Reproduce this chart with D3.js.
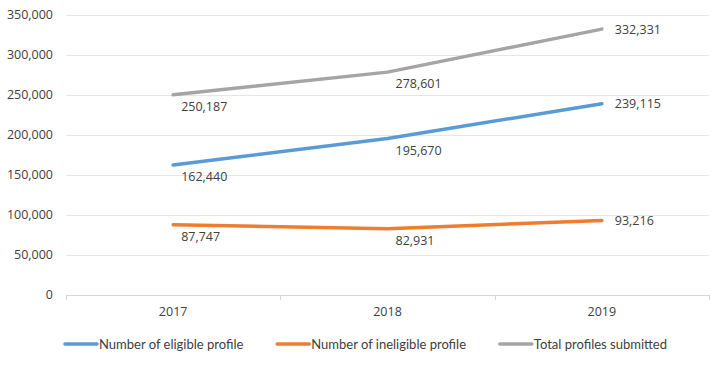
<!DOCTYPE html>
<html>
<head>
<meta charset="utf-8">
<script src="https://cdn.jsdelivr.net/npm/d3@7"></script>
<style>
  body { margin: 0; background: #fff; }
  svg text { font-family: "Open Sans", "Noto Sans", sans-serif; fill: #404040; }
  svg .legend text { font-family: Lato, "Open Sans", sans-serif; }
</style>
</head>
<body>
<div id="chart"></div>
<script>
// data
const years = ["2017", "2018", "2019"];
const eligible = [162440, 195670, 239115];
const ineligible = [87747, 82931, 93216];
const totalSubmitted = [250187, 278601, 332331];
const seriesNames = ["Number of eligible profile", "Number of ineligible profile", "Total profiles submitted"];
const yTicks = [0, 50000, 100000, 150000, 200000, 250000, 300000, 350000];
const colors = ["#5b9bd5", "#ed7d31", "#a5a5a5"];

const width = 720, height = 367;
const margin = { left: 66, right: 11, top: 15, bottom: 72 };

const svg = d3.select("#chart").append("svg")
    .attr("width", width)
    .attr("height", height);

const x = d3.scaleBand()
    .domain(years)
    .range([margin.left, width - margin.right]);

const y = d3.scaleLinear()
    .domain([0, 350000])
    .range([height - margin.bottom, margin.top]);

// grid lines
svg.append("g")
    .selectAll("line")
    .data(yTicks)
    .enter().append("line")
    .attr("x1", margin.left)
    .attr("x2", width - margin.right)
    .attr("y1", d => Math.round(y(d)) + 0.5)
    .attr("y2", d => Math.round(y(d)) + 0.5)
    .attr("stroke", d => d === 0 ? "#d4d8e0" : "#e3e6ec")
    .attr("stroke-width", 1);

// y labels
const fmt = d3.format(",");
svg.append("g")
    .selectAll("text")
    .data(yTicks)
    .enter().append("text")
    .attr("x", margin.left - 13)
    .attr("y", d => y(d))
    .attr("dy", "0.35em")
    .attr("text-anchor", "end")
    .style("font-size", "12.5px")
    .text(d => fmt(d));

// x axis ticks at band edges
const edges = years.map(d => x(d)).concat([x(years[years.length - 1]) + x.bandwidth()]);
svg.append("g")
    .selectAll("line")
    .data(edges)
    .enter().append("line")
    .attr("x1", d => Math.round(d) + 0.5)
    .attr("x2", d => Math.round(d) + 0.5)
    .attr("y1", y(0))
    .attr("y2", y(0) + 5)
    .attr("stroke", "#d4d8e0");

svg.append("g")
    .selectAll("text")
    .data(years)
    .enter().append("text")
    .attr("x", d => x(d) + x.bandwidth() / 2)
    .attr("y", y(0) + 21)
    .attr("text-anchor", "middle")
    .style("font-size", "12.5px")
    .text(d => d);

// lines
const allSeries = [eligible, ineligible, totalSubmitted];
const line = d3.line()
    .x((d, i) => x(years[i]) + x.bandwidth() / 2)
    .y(d => y(d));

svg.append("g")
    .selectAll("path")
    .data(allSeries)
    .enter().append("path")
    .attr("fill", "none")
    .attr("stroke", (d, i) => colors[i])
    .attr("stroke-width", 3.5)
    .attr("stroke-linecap", "round")
    .attr("stroke-linejoin", "round")
    .attr("d", d => line(d));

// data labels
allSeries.forEach(function(series) {
    svg.append("g")
        .selectAll("text")
        .data(series)
        .enter().append("text")
        .attr("x", (d, i) => x(years[i]) + x.bandwidth() / 2 + (i === 2 ? 13 : 8))
        .attr("y", (d, i) => y(d) + (i === 2 ? 0 : 12))
        .attr("dy", "0.35em")
        .attr("text-anchor", "start")
        .style("font-size", "12.5px")
        .text(d => fmt(d));
});

// legend
const legend = svg.append("g").attr("class", "legend");
const legendY = 344;
const items = legend.selectAll("g")
    .data(seriesNames)
    .enter().append("g");
items.append("line")
    .attr("x1", 1).attr("x2", 33)
    .attr("y1", 0).attr("y2", 0)
    .attr("stroke", (d, i) => colors[i])
    .attr("stroke-width", 3.5)
    .attr("stroke-linecap", "round");
items.append("text")
    .attr("x", 35)
    .attr("y", 0)
    .attr("dy", "0.35em")
    .style("font-size", "13px")
    .text(d => d);

// lay out legend items to span the legend area evenly
const widths = [];
items.each(function() { widths.push(this.getBBox().width); });
const legendStart = 64, legendEnd = 666;
const gap = (legendEnd - legendStart - d3.sum(widths)) / (widths.length - 1);
let cx = legendStart;
items.attr("transform", function(d, i) {
    const t = `translate(${cx},${legendY})`;
    cx += widths[i] + gap;
    return t;
});
</script>
</body>
</html>
